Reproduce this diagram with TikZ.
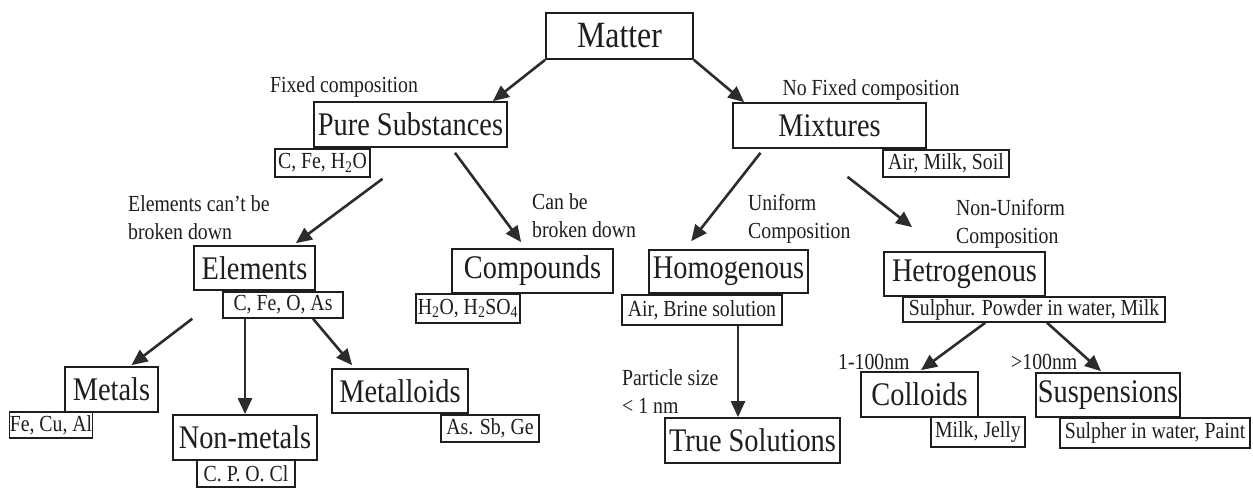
\documentclass[tikz,border=0pt]{standalone}
\usepackage{fontspec}
\setmainfont{Liberation Serif}[FakeStretch=0.86]
\usetikzlibrary{arrows.meta,calc}
\definecolor{ink}{HTML}{1E1E1E}
\definecolor{arrc}{HTML}{2C2C2C}
\begin{document}
\begin{tikzpicture}[x=1pt,y=-1pt,
  bigbox/.style={draw=ink,line width=1.7pt,inner sep=0pt,text=ink,font=\fontsize{33}{36}\selectfont},
  smallbox/.style={draw=ink,line width=1.4pt,inner sep=0pt,text=ink,font=\fontsize{23}{26}\selectfont},
  lbl/.style={inner sep=0pt,text=ink,font=\fontsize{23}{28}\selectfont,align=left},
  arr/.style={draw=arrc,line width=2.6pt,-{Triangle[length=16pt,width=14pt,fill=arrc]}}]
\useasboundingbox[fill=white] (0,0) rectangle (1253,488);
% main boxes
\node[bigbox,minimum width=147pt,minimum height=46pt,font=\fontsize{37}{40}\selectfont] (matter) at (619.5,36) {Matter};
\node[bigbox,minimum width=193pt,minimum height=45pt] (pure) at (410.5,124.5) {Pure Substances};
\node[bigbox,minimum width=193pt,minimum height=45pt] (mix) at (829.5,125.5) {Mixtures};
\node[bigbox,minimum width=121pt,minimum height=44pt] (elem) at (254.5,268) {Elements};
\node[bigbox,minimum width=161pt,minimum height=44pt] (comp) at (532.5,271) {Compounds};
\node[bigbox,minimum width=159pt,minimum height=43pt] (homo) at (728.5,271.5) {Homogenous};
\node[bigbox,minimum width=161pt,minimum height=44pt] (hetro) at (964.5,274) {Hetrogenous};
\node[bigbox,minimum width=93pt,minimum height=45pt] (metals) at (111.5,389.5) {Metals};
\node[bigbox,minimum width=144pt,minimum height=45pt] (nonmet) at (245,437.5) {Non-metals};
\node[bigbox,minimum width=136pt,minimum height=44pt] (metalloid) at (400,391) {Metalloids};
\node[bigbox,minimum width=175pt,minimum height=45pt] (truesol) at (752.5,440.5) {True Solutions};
\node[bigbox,minimum width=117pt,minimum height=45pt] (coll) at (919.5,394.5) {Colloids};
\node[bigbox,minimum width=144pt,minimum height=44pt] (susp) at (1108,395) {Suspensions};
% example boxes
\node[smallbox,minimum width=95pt,minimum height=28pt] (exPure) at (322.5,163) {C, Fe, H\textsubscript{2}O};
\node[smallbox,minimum width=126pt,minimum height=27pt] (exMix) at (946,163.5) {Air, Milk, Soil};
\node[smallbox,minimum width=120pt,minimum height=26pt] (exElem) at (283,305) {C, Fe, O, As};
\node[smallbox,minimum width=104pt,minimum height=29pt] (exComp) at (468,308.5) {H\textsubscript{2}O, H\textsubscript{2}SO\textsubscript{4}};
\node[smallbox,minimum width=160pt,minimum height=30pt] (exHomo) at (702,310) {Air, Brine solution};
\node[smallbox,minimum width=262pt,minimum height=25pt] (exHetro) at (1034,309.5) {Sulphur. Powder in water, Milk};
\node[smallbox,minimum width=82pt,minimum height=26pt] (exMetals) at (51,425) {Fe, Cu, Al};
\node[smallbox,minimum width=98pt,minimum height=27pt] (exNonmet) at (246,473.5) {C. P. O. Cl};
\node[smallbox,minimum width=98pt,minimum height=27pt] (exMetalloid) at (490,428.5) {As. Sb, Ge};
\node[smallbox,minimum width=94pt,minimum height=30pt] (exColl) at (978,432) {Milk, Jelly};
\node[smallbox,minimum width=190pt,minimum height=30pt] (exSusp) at (1155,433) {Sulpher in water, Paint};
% labels
\node[lbl] (lFixed) at (344,87) {Fixed composition};
\node[lbl] (lNoFixed) at (871,90) {No Fixed composition};
\node[lbl,anchor=west] (lElem) at (128,217.5) {Elements can't be\\broken down};
\node[lbl,anchor=west] (lComp) at (532,216) {Can be\\broken down};
\node[lbl,anchor=west] (lHomo) at (748,219) {Uniform\\Composition};
\node[lbl,anchor=west] (lHetro) at (956,223.5) {Non-Uniform\\Composition};
\node[lbl,anchor=west] (lTrue) at (622,391.5) {Particle size\\< 1 nm};
\node[lbl,anchor=west] (lColl) at (838,362) {1-100nm};
\node[lbl,anchor=west] (lSusp) at (1011,362) {>100nm};
% arrows
\coordinate (tsTop) at ($(truesol.north)+(-14.5,0)$);
\draw[arr] (matter.south west) -- ($(pure.north east)+(-15,0)$);
\draw[arr] (matter.south east) -- ($(mix.north west)+(12,0)$);
\draw[arr] ($(pure.south)+(-28,31)$) -- ($(elem.north east)+(-20,-2)$);
\draw[arr] ($(pure.south)+(44.5,5)$) -- ($(comp.north west)+(70,-6)$);
\draw[arr] ($(mix.south)+(-69,4)$) -- ($(homo.north west)+(43,-8)$);
\draw[arr] ($(mix.south)+(18,28)$) -- ($(hetro.north west)+(29,-24)$);
\draw[arr] ($(exElem.south west)+(-30,0)$) -- ($(metals.north)+(20,-1)$);
\draw[arr] (nonmet.north |- exElem.south) -- (nonmet.north);
\draw[arr] ($(exElem.south)+(30,0)$) -- ($(metalloid.north west)+(21,-3)$);
\draw[arr] (tsTop |- exHomo.south) -- (tsTop);
\draw[arr] ($(exHetro.south west)+(83,0)$) -- ($(coll.north)+(1.5,-1)$);
\draw[arr] ($(exHetro.south)+(13,0)$) -- ($(susp.north)+(-7,-1)$);
\end{tikzpicture}
\end{document}
